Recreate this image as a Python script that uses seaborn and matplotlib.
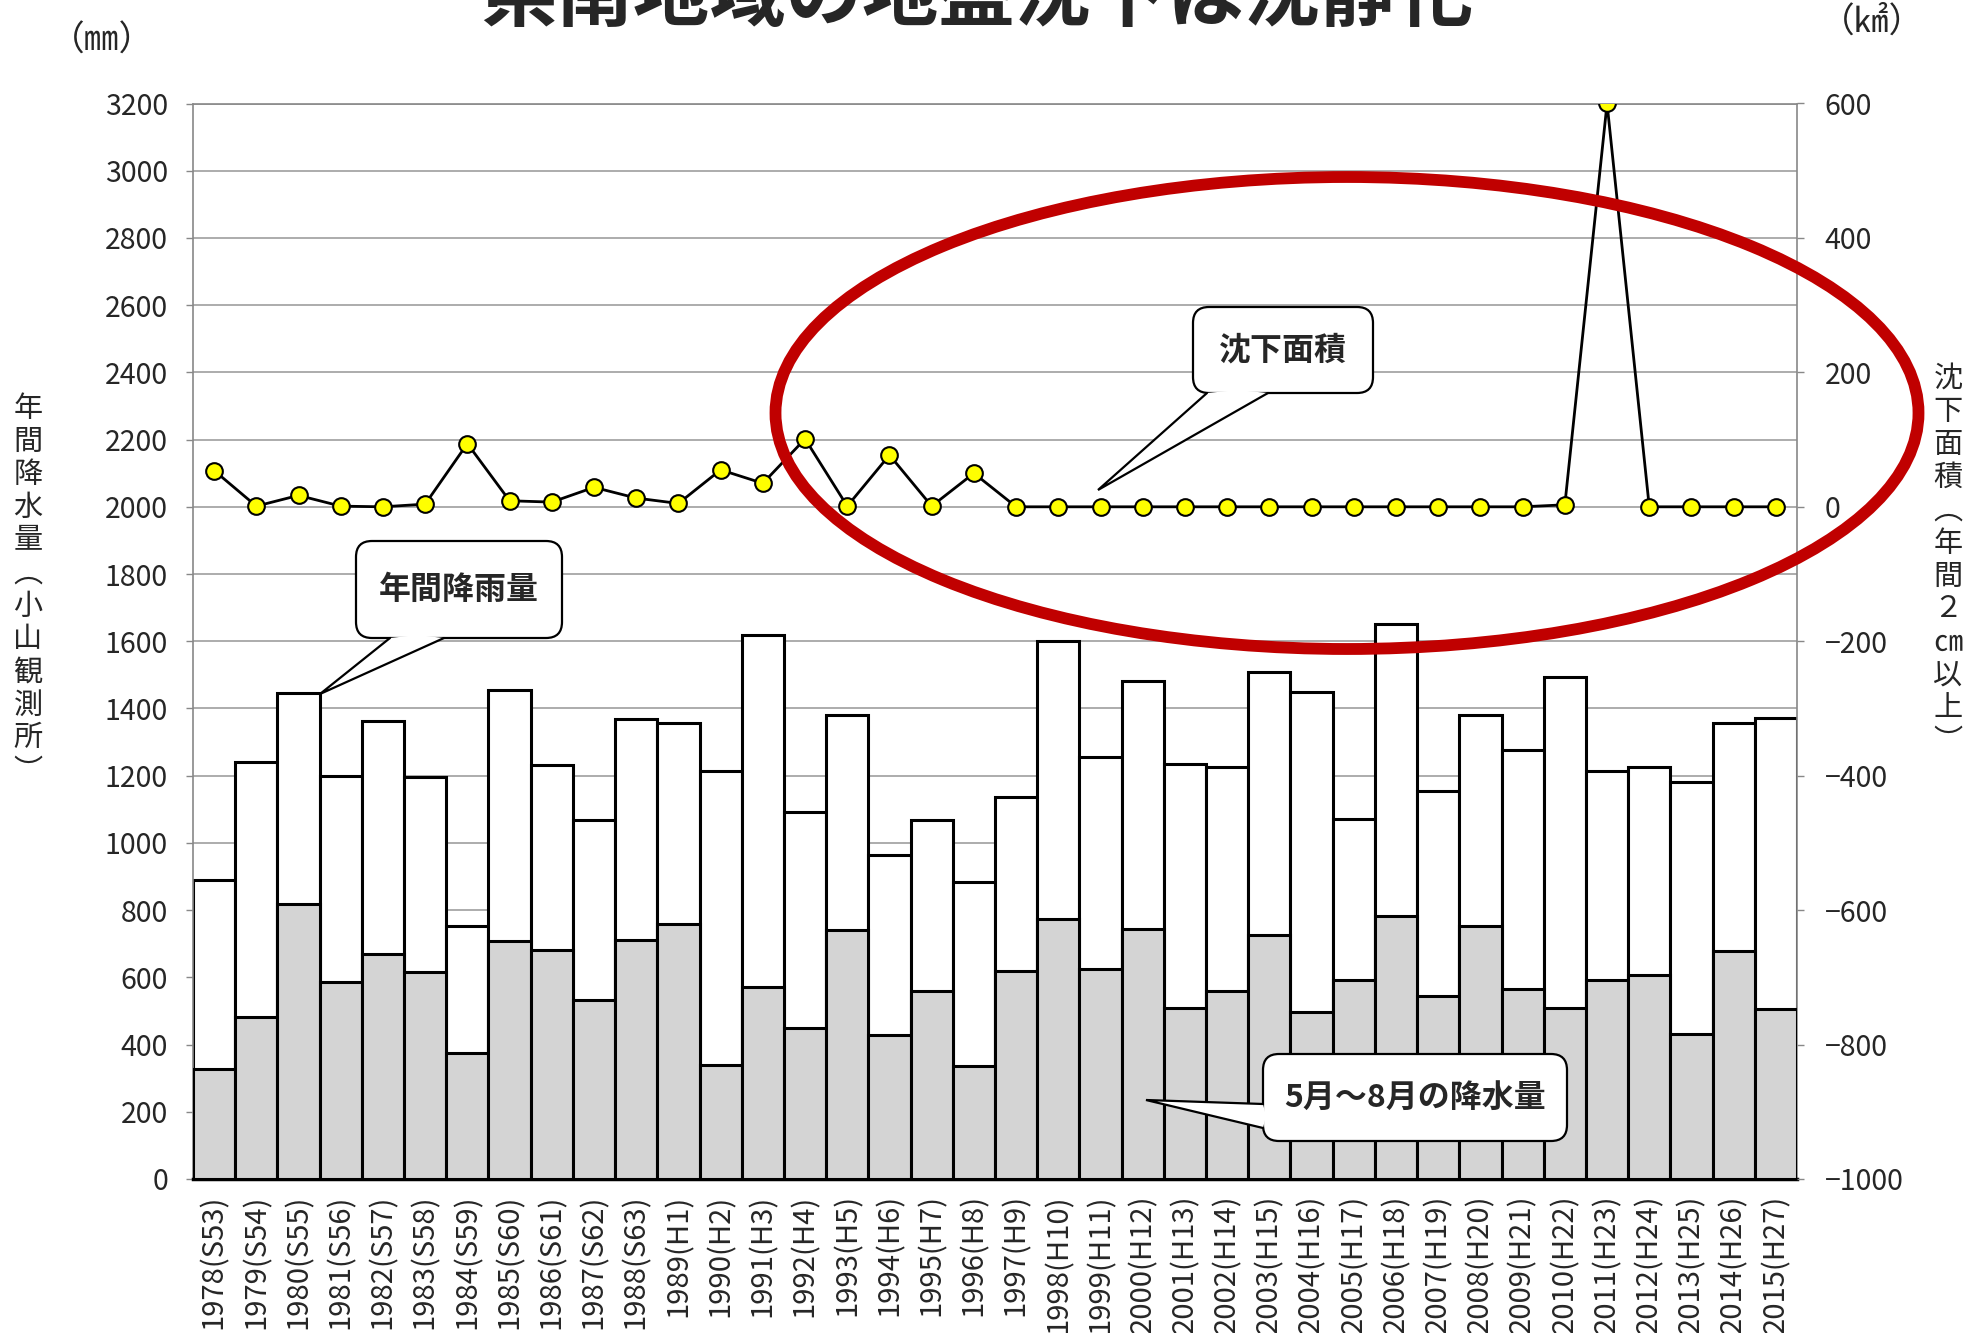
import numpy as np
import pandas as pd
import matplotlib
matplotlib.use("Agg")
import matplotlib.pyplot as plt
import seaborn as sns
from matplotlib.patches import FancyBboxPatch, Ellipse, Polygon

# ---------------- data ----------------
year_labels = ["1978(S53)", "1979(S54)", "1980(S55)", "1981(S56)", "1982(S57)",
               "1983(S58)", "1984(S59)", "1985(S60)", "1986(S61)", "1987(S62)",
               "1988(S63)", "1989(H1)", "1990(H2)", "1991(H3)", "1992(H4)",
               "1993(H5)", "1994(H6)", "1995(H7)", "1996(H8)", "1997(H9)",
               "1998(H10)", "1999(H11)", "2000(H12)", "2001(H13)", "2002(H14)",
               "2003(H15)", "2004(H16)", "2005(H17)", "2006(H18)", "2007(H19)",
               "2008(H20)", "2009(H21)", "2010(H22)", "2011(H23)", "2012(H24)",
               "2013(H25)", "2014(H26)", "2015(H27)"]
annual_rain = [889, 1240, 1445, 1199, 1364, 1197, 752, 1456, 1231, 1069,
               1370, 1358, 1213, 1620, 1091, 1381, 963, 1068, 883, 1137,
               1601, 1256, 1481, 1236, 1225, 1508, 1450, 1070, 1650, 1154,
               1382, 1276, 1495, 1213, 1227, 1182, 1356, 1373]
may_aug_rain = [328, 482, 818, 585, 670, 615, 376, 707, 681, 533,
                710, 758, 340, 572, 448, 741, 427, 558, 336, 618,
                773, 624, 743, 509, 558, 727, 496, 593, 784, 545,
                754, 564, 509, 593, 606, 430, 678, 507]
subsidence_area = [54, 1, 17, 1, 0, 4, 94, 9, 7, 29,
                   13, 5, 55, 35, 101, 1, 77, 1, 50, 0,
                   0, 0, 0, 0, 0, 0, 0, 0, 0, 0,
                   0, 0, 3, 600, 0, 0, 0, 0]
left_ticks = list(range(0, 3201, 200))
right_ticks = list(range(-1000, 601, 200))

# ---------------- style ----------------
sns.set_theme(style="white")
plt.rcParams["font.family"] = ["Noto Sans CJK JP", "DejaVu Sans"]

W, H = 1979, 1333
fig = plt.figure(figsize=(W / 100, H / 100), dpi=100)
ax = fig.add_axes([193 / W, 1 - 1179 / H, (1797 - 193) / W, (1179 - 103.5) / H])

df = pd.DataFrame({"year": year_labels, "annual": annual_rain, "summer": may_aug_rain})

sns.barplot(data=df, x="year", y="annual", color="white", edgecolor="black",
            linewidth=2.2, width=1.0, saturation=1, ax=ax, zorder=2)
sns.barplot(data=df, x="year", y="summer", color="#d4d4d4", edgecolor="black",
            linewidth=2.2, width=1.0, saturation=1, ax=ax, zorder=3)

ax.set_ylim(0, 3200)
ax.set_yticks(left_ticks)
ax.set_yticklabels([str(t) for t in left_ticks])
ax.set_xlim(-0.5, len(year_labels) - 0.5)
ax.set_xlabel("")
ax.set_ylabel("")
ax.set_axisbelow(True)
ax.yaxis.grid(True, color="#a6a6a6", lw=1.3)
ax.tick_params(axis="y", length=5, width=1, color="#888888", direction="out",
               labelsize=20.5, pad=13, left=True)
ax.tick_params(axis="x", length=0, labelsize=21, pad=11)
for lab in ax.get_xticklabels():
    lab.set_rotation(90)
for side in ["left", "right", "top"]:
    ax.spines[side].set_color("#888888")
    ax.spines[side].set_linewidth(1.2)
ax.spines["bottom"].set_color("black")
ax.spines["bottom"].set_linewidth(2.5)

# secondary axis: subsidence area
ax2 = ax.twinx()
sns.lineplot(x=np.arange(len(subsidence_area)), y=subsidence_area, ax=ax2,
             color="black", lw=2, marker="o", markersize=12,
             markerfacecolor="#ffff00", markeredgecolor="black",
             markeredgewidth=1.5, zorder=5)
ax2.set_ylim(-1000, 600)
ax2.set_yticks(right_ticks)
ax2.set_yticklabels([("\u2212" + str(-t)) if t < 0 else str(t) for t in right_ticks])
ax2.set_ylabel("")
ax2.tick_params(axis="y", length=5, width=1, color="#888888", direction="out",
                labelsize=20.5, pad=15, right=True)
ax2.set_xlim(-0.5, len(year_labels) - 0.5)
for side in ["left", "right", "top", "bottom"]:
    ax2.spines[side].set_visible(False)

# axis titles (vertical CJK text)
left_title = "年間降水量\ufe35小山観測所\ufe36"
right_title = "沈下面積\ufe35年間２\u339d以上\ufe36"
fig.text(28 / W, 1 - 590 / H, "\n".join(left_title), ha="center", va="center",
         fontsize=21, linespacing=1.13)
fig.text(1948 / W, 1 - 560 / H, "\n".join(right_title), ha="center", va="center",
         fontsize=21, linespacing=1.13)
fig.text(102 / W, 1 - 41 / H, "（\u339c）", ha="center", va="center", fontsize=25)
fig.text(1872 / W, 1 - 22 / H, "（\u33a2）", ha="center", va="center", fontsize=25)

# title (cut at the top in the reference)
fig.text(977 / W, 1 - 20 / H, "県南地域の地盤沈下は沈静化", ha="center",
         va="baseline", fontsize=55, fontweight="bold")

# ---------------- overlay: callouts & ellipse ----------------
ov = fig.add_axes([0, 0, 1, 1], zorder=10)
ov.set_xlim(0, W)
ov.set_ylim(H, 0)
ov.axis("off")


def callout(x0, y0, x1, y1, b1, b2, tip, inner, text, fs):
    box = FancyBboxPatch((x0, y0), x1 - x0, y1 - y0,
                         boxstyle="round,pad=0,rounding_size=16",
                         fc="white", ec="black", lw=1.6)
    ov.add_patch(box)
    fill = Polygon([inner[0], b1, tip, b2, inner[1]], closed=True, fc="white", ec="none")
    ov.add_patch(fill)
    ov.plot([b1[0], tip[0], b2[0]], [b1[1], tip[1], b2[1]], color="black", lw=1.6,
            solid_joinstyle="miter")
    ov.text((x0 + x1) / 2, (y0 + y1) / 2, text, ha="center", va="center",
            fontsize=fs, fontweight="bold")


callout(356, 541, 562, 638, (390, 638), (444, 638), (320, 694),
        [(444, 632), (390, 632)], "年間降雨量", 23)
callout(1193, 307, 1373, 393, (1207, 393), (1268, 393), (1098, 490),
        [(1268, 387), (1207, 387)], "沈下面積", 23)
callout(1263, 1054, 1567, 1141, (1263, 1104), (1263, 1128), (1146, 1100),
        [(1269, 1128), (1269, 1104)], "5月～8月の降水量", 23)

ov.add_patch(Ellipse((1347, 413), 1143, 472, fill=False, ec="#c00000", lw=8.5))

fig.savefig("out.png", dpi=100)
